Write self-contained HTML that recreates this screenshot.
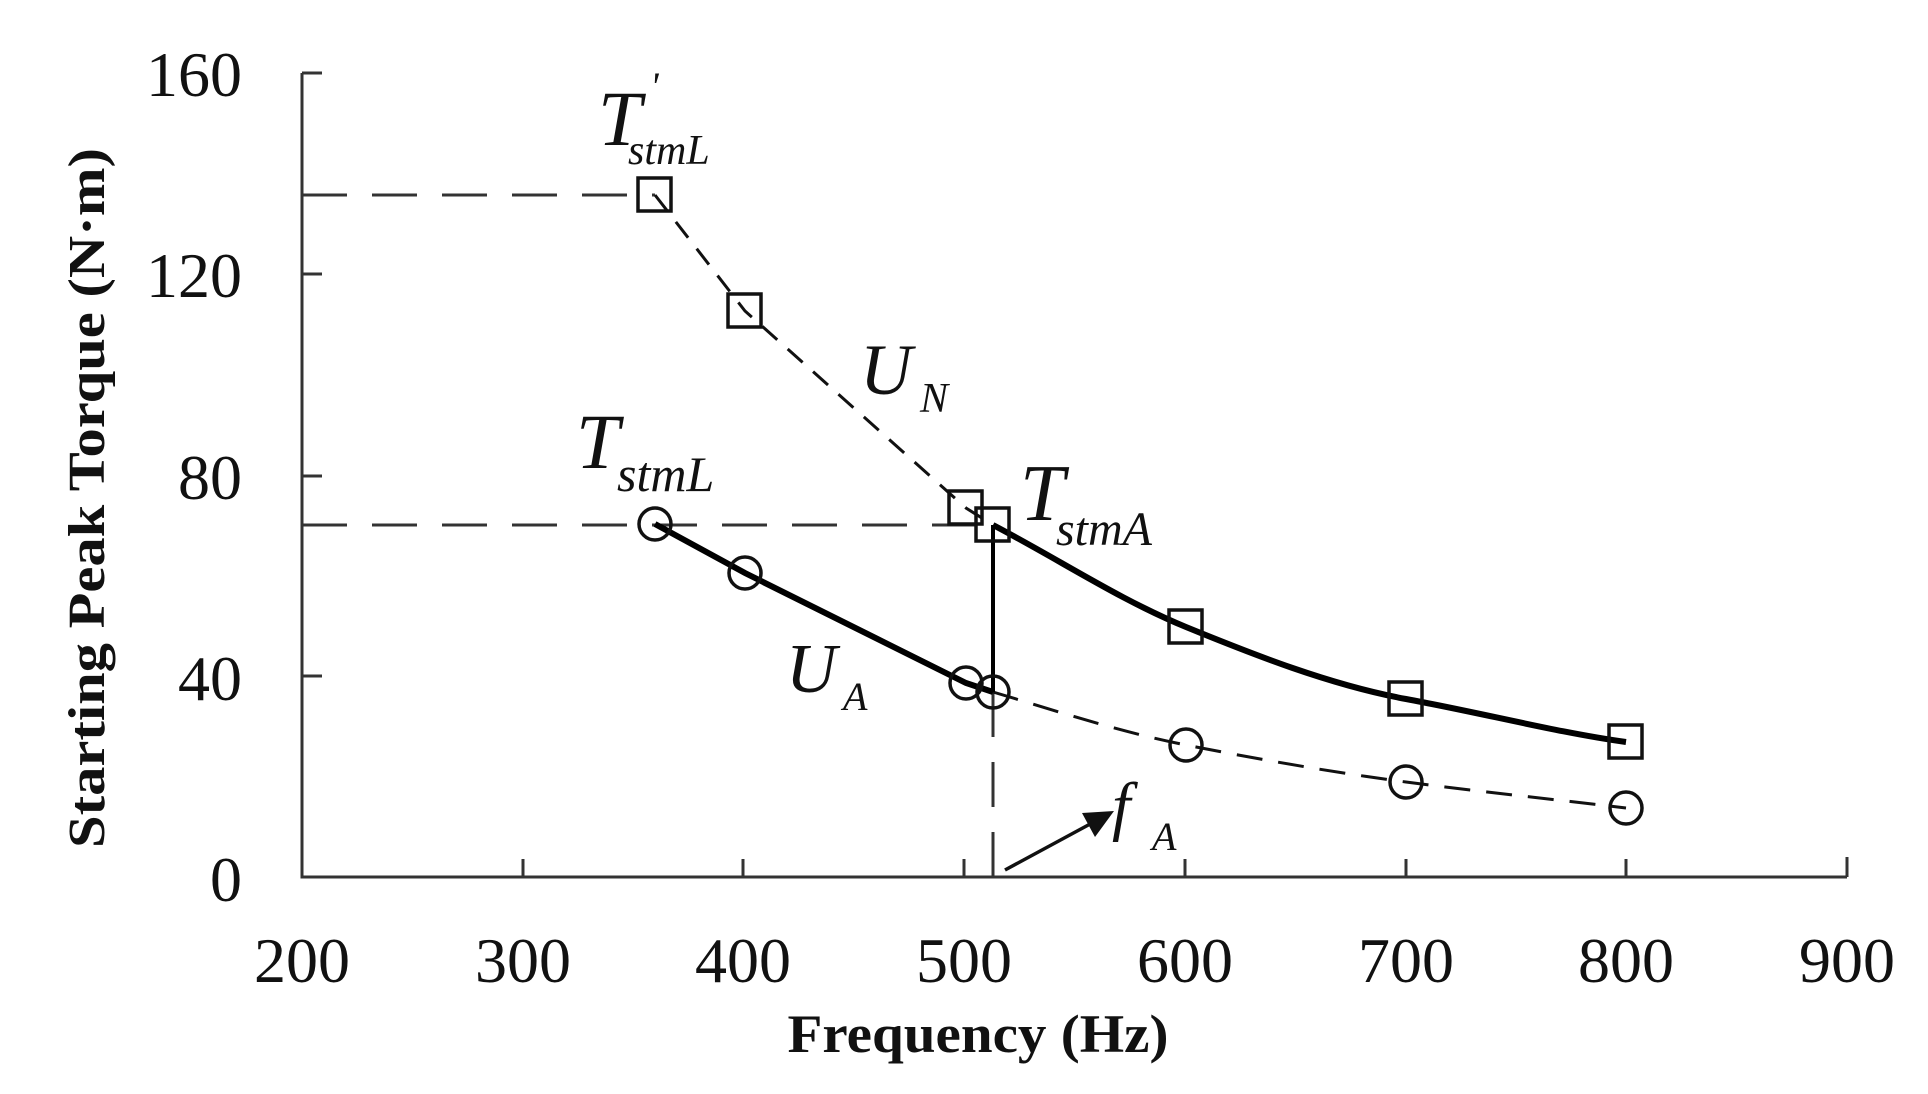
<!DOCTYPE html>
<html><head><meta charset="utf-8"><style>
html,body{margin:0;padding:0;background:#fff;}
svg{display:block;}
text{font-family:"Liberation Serif",serif;}
</style></head><body>
<svg width="1928" height="1094" viewBox="0 0 1928 1094" xmlns="http://www.w3.org/2000/svg">
<defs>
<marker id="ah" markerWidth="10" markerHeight="8" refX="9" refY="4" orient="auto" markerUnits="userSpaceOnUse" viewBox="0 0 10 8">
</marker>
</defs>
<!-- axes -->
<g stroke="#333" stroke-width="3" fill="none">
<path d="M302 73 V877 H1847"/>
<path d="M302 73 h20 M302 274 h20 M302 476 h20 M302 676 h20"/>
<path d="M523 877 v-18 M743 877 v-18 M964 877 v-18 M1185 877 v-18 M1406 877 v-18 M1626 877 v-18 M1847 877 v-20"/>
</g>
<!-- y tick labels -->
<g font-size="64" fill="#111" text-anchor="end">
<text x="242" y="96">160</text>
<text x="242" y="297">120</text>
<text x="242" y="499">80</text>
<text x="242" y="700">40</text>
<text x="242" y="901">0</text>
</g>
<g font-size="64" fill="#111" text-anchor="middle">
<text x="302" y="982">200</text>
<text x="523" y="982">300</text>
<text x="743" y="982">400</text>
<text x="964" y="982">500</text>
<text x="1185" y="982">600</text>
<text x="1406" y="982">700</text>
<text x="1626" y="982">800</text>
<text x="1847" y="982">900</text>
</g>
<text x="978" y="1052" font-size="54" font-weight="bold" text-anchor="middle" textLength="381" lengthAdjust="spacingAndGlyphs" fill="#111">Frequency (Hz)</text>
<text transform="translate(104,498) rotate(-90)" font-size="52" font-weight="bold" text-anchor="middle" textLength="700" lengthAdjust="spacingAndGlyphs" fill="#111">Starting Peak Torque (N·m)</text>

<!-- reference dashed lines -->
<g stroke="#333" stroke-width="3" fill="none" stroke-dasharray="45,25">
<path d="M302 195 H655"/>
<path d="M302 525 H993"/>
<path d="M993 692 V877"/>
</g>
<!-- UN dashed -->
<path d="M655 195 L745 311 L966 508 L993 525" stroke="#111" stroke-width="3" fill="none" stroke-dasharray="20,14"/>
<!-- circle dashed -->
<path d="M993 692 C1060 712 1120 732 1186 745 S1330 772 1406 782 S1560 800 1626 808" stroke="#111" stroke-width="3" fill="none" stroke-dasharray="26,16"/>
<!-- solid thick lines -->
<path d="M655 524 L745 573 L966 683 L993 692" stroke="#000" stroke-width="6" fill="none"/>
<path d="M993 525 C1060 560 1120 600 1186 627 S1330 685 1406 699 S1560 733 1626 742" stroke="#000" stroke-width="6" fill="none"/>
<path d="M993 525 V692" stroke="#000" stroke-width="4"/>
<!-- markers squares -->
<g stroke="#111" stroke-width="3.5" fill="none">
<rect x="638" y="178" width="33" height="33"/>
<rect x="728" y="294" width="33" height="33"/>
<rect x="949" y="491" width="33" height="33"/>
<rect x="976" y="508" width="33" height="33"/>
<rect x="1169" y="610" width="33" height="33"/>
<rect x="1389" y="682" width="33" height="33"/>
<rect x="1609" y="725" width="33" height="33"/>
</g>
<g stroke="#111" stroke-width="3.5" fill="none">
<circle cx="655" cy="524" r="16"/>
<circle cx="745" cy="573" r="16"/>
<circle cx="966" cy="683" r="16"/>
<circle cx="993" cy="692" r="16"/>
<circle cx="1186" cy="745" r="16"/>
<circle cx="1406" cy="782" r="16"/>
<circle cx="1626" cy="808" r="16"/>
</g>
<!-- arrow -->
<path d="M1005 870 L1092 823" stroke="#111" stroke-width="3.5"/>
<polygon points="1114,811 1082,813 1095,837" fill="#111"/>
<!-- labels -->
<g font-style="italic" fill="#111">
<text x="598" y="145" font-size="78">T</text>
<text x="650" y="100" font-size="40">'</text>
<text x="628" y="164" font-size="42">stmL</text>
<text x="576" y="468" font-size="78">T</text>
<text x="617" y="491" font-size="50">stmL</text>
<text x="860" y="394" font-size="72">U</text>
<text x="920" y="412" font-size="42">N</text>
<text x="1020" y="520" font-size="80">T</text>
<text x="1056" y="545" font-size="48">stmA</text>
<text x="786" y="692" font-size="70">U</text>
<text x="843" y="710" font-size="40">A</text>
<text x="1112" y="828" font-size="66">f</text>
<text x="1152" y="850" font-size="40">A</text>
</g>
</svg>
</body></html>
